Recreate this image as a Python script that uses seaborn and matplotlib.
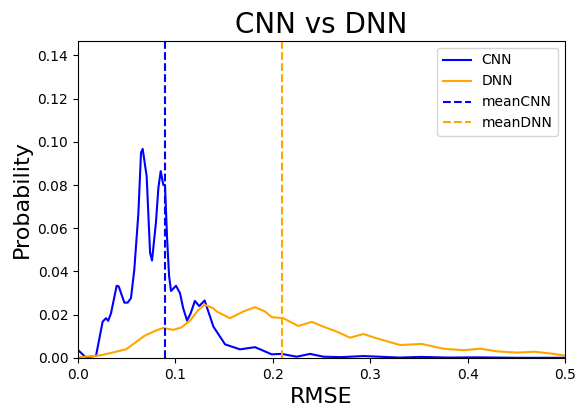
import numpy as np
import pandas as pd
import seaborn as sns
import matplotlib
matplotlib.use("Agg")
import matplotlib.pyplot as plt

# values
cnn_x = [0.0, 0.008, 0.0185, 0.0253, 0.0287, 0.031, 0.0339, 0.0397, 0.0418, 0.0476,
         0.051, 0.0544, 0.0578, 0.062, 0.0647, 0.0664, 0.0705, 0.074, 0.076, 0.080,
         0.0825, 0.0849, 0.0876, 0.0893, 0.0915, 0.0935, 0.0955, 0.1006, 0.1047, 0.108,
         0.112, 0.1157, 0.120, 0.1245, 0.130, 0.1338, 0.139, 0.1424, 0.151, 0.1663,
         0.1817, 0.1886, 0.1988, 0.209, 0.2245, 0.2382, 0.252, 0.27, 0.293, 0.33,
         0.352, 0.38, 0.41, 0.45, 0.5]
cnn_y = [0.0037, 0.0003, 0.001, 0.0168, 0.0184, 0.0172, 0.0207, 0.0334, 0.0331, 0.0256,
         0.0256, 0.0277, 0.0408, 0.067, 0.095, 0.0967, 0.084, 0.0487, 0.0451, 0.0626,
         0.0786, 0.0864, 0.0800, 0.0800, 0.055, 0.038, 0.031, 0.0334, 0.030, 0.023,
         0.0173, 0.0207, 0.0264, 0.024, 0.0266, 0.0215, 0.0145, 0.0122, 0.0063, 0.004,
         0.005, 0.0037, 0.0017, 0.0019, 0.0006, 0.0019, 0.0006, 0.0004, 0.0009, 0.0002,
         0.0005, 0.0002, 0.0003, 0.0001, 0.0001]

dnn_x = [0.0, 0.0185, 0.026, 0.039, 0.0493, 0.0578, 0.068, 0.079, 0.0876, 0.098,
         0.1064, 0.115, 0.1235, 0.130, 0.139, 0.1424, 0.156, 0.1697, 0.1817, 0.192,
         0.1988, 0.2108, 0.2262, 0.240, 0.2519, 0.2656, 0.2793, 0.293, 0.3067, 0.3306,
         0.3528, 0.375, 0.3956, 0.4127, 0.4298, 0.4504, 0.469, 0.488, 0.5]
dnn_y = [0.0003, 0.001, 0.0015, 0.0029, 0.004, 0.0068, 0.0102, 0.0125, 0.0139, 0.013,
         0.0142, 0.0173, 0.0222, 0.0246, 0.023, 0.0215, 0.0184, 0.0215, 0.0235, 0.0215,
         0.0189, 0.0184, 0.0148, 0.0167, 0.0145, 0.0122, 0.0094, 0.0111, 0.0091, 0.006,
         0.0065, 0.0043, 0.0036, 0.0043, 0.0031, 0.0025, 0.0029, 0.0019, 0.0011]

mean_cnn = 0.0893
mean_dnn = 0.209

df = pd.concat([
    pd.DataFrame({"RMSE": cnn_x, "Probability": cnn_y, "model": "CNN"}),
    pd.DataFrame({"RMSE": dnn_x, "Probability": dnn_y, "model": "DNN"}),
])

fig, ax = plt.subplots(figsize=(5.76, 4.09), dpi=100)
fig.subplots_adjust(left=0.1354, right=0.981, bottom=0.1247, top=0.8998)

sns.lineplot(data=df, x="RMSE", y="Probability", hue="model",
             palette={"CNN": "blue", "DNN": "orange"}, linewidth=1.5,
             sort=False, ax=ax)
ax.axvline(mean_cnn, color="blue", linestyle="--", linewidth=1.5, label="meanCNN")
ax.axvline(mean_dnn, color="orange", linestyle="--", linewidth=1.5, label="meanDNN")

ax.set_xlim(0, 0.5)
ax.set_ylim(0, 0.1466)
ax.set_title("CNN vs DNN", fontsize=20)
ax.set_xlabel("RMSE", fontsize=16)
ax.set_ylabel("Probability", fontsize=16)
ax.legend(loc="upper right")

fig.savefig("out.png", dpi=100)
